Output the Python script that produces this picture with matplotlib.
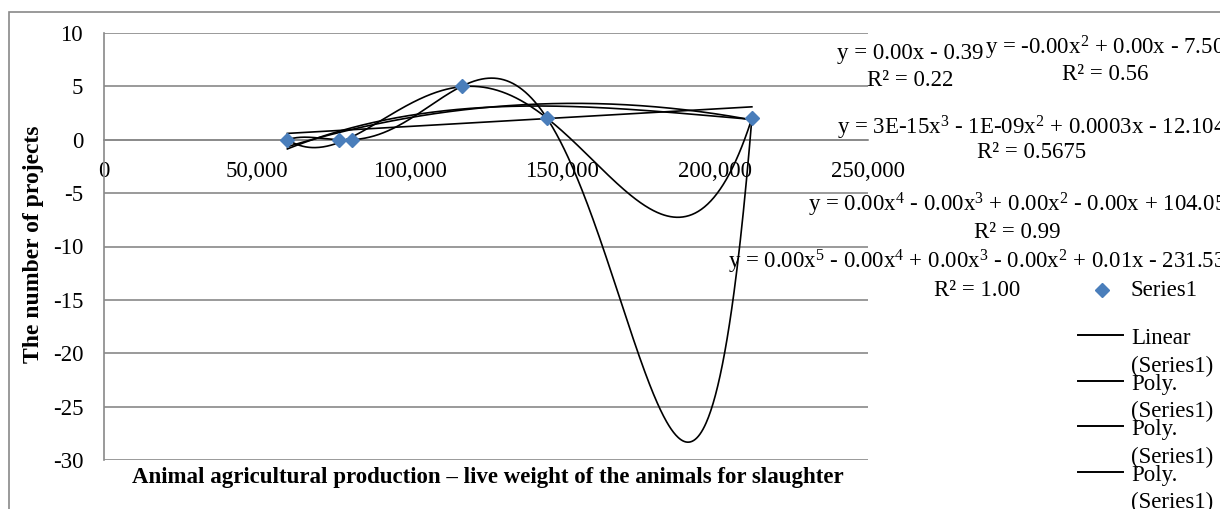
import matplotlib
matplotlib.use("Agg")
import matplotlib.pyplot as plt
import numpy as np
from matplotlib.lines import Line2D
from matplotlib.patches import Rectangle
from matplotlib.ticker import FuncFormatter, MultipleLocator

plt.rcParams['font.family'] = 'Liberation Serif'
plt.rcParams['mathtext.fontset'] = 'custom'
plt.rcParams['mathtext.rm'] = 'Liberation Serif'
plt.rcParams['mathtext.it'] = 'Liberation Serif:italic'
plt.rcParams['axes.unicode_minus'] = False

# data
live_weight = [60000, 77000, 81000, 117000, 145000, 212000]
projects = [0, 0, 0, 5, 2, 2]
trend_degrees = [1, 2, 3, 4, 5]

eq_lines = [
    "y = 0.00x - 0.39",
    "y = -0.00x$^{2}$ + 0.00x - 7.50",
    "y = 3E-15x$^{3}$ - 1E-09x$^{2}$ + 0.0003x - 12.104",
    "y = 0.00x$^{4}$ - 0.00x$^{3}$ + 0.00x$^{2}$ - 0.00x + 104.05",
    "y = 0.00x$^{5}$ - 0.00x$^{4}$ + 0.00x$^{3}$ - 0.00x$^{2}$ + 0.01x - 231.53",
]
r2_lines = ["R² = 0.22", "R² = 0.56", "R² = 0.5675", "R² = 0.99", "R² = 1.00"]
legend_labels = ["Linear", "Poly.", "Poly.", "Poly.", "Poly."]

W, H = 1220, 509
GRID = '#898989'
BLUE = '#4a7ebb'
FS = 16.5


def fx(px):
    return px / W


def fy(py):
    return 1 - py / H


fig = plt.figure(figsize=(W / 100, H / 100), dpi=100)
fig.patches.append(Rectangle((fx(9), fy(600)), 2, fy(12) - fy(600),
                             transform=fig.transFigure, fill=False,
                             edgecolor=GRID, lw=1.2))

ax = fig.add_axes([fx(104), fy(460), fx(868) - fx(104), fy(33) - fy(460)])

x = np.array(live_weight, dtype=float)
y = np.array(projects, dtype=float)
xs = np.linspace(x.min(), x.max(), 600)
for deg in trend_degrees:
    p = np.polynomial.Polynomial.fit(x, y, deg)
    ax.plot(xs, p(xs), color='black', lw=1.2, zorder=3)

ax.plot(x, y, linestyle='none', marker='D', ms=7.6, color=BLUE,
        markeredgecolor=BLUE, zorder=4)

ax.set_xlim(0, 250000)
ax.set_ylim(-30, 10)
ax.xaxis.set_major_locator(MultipleLocator(50000))
ax.yaxis.set_major_locator(MultipleLocator(5))
ax.xaxis.set_major_formatter(FuncFormatter(lambda v, _: f"{v:,.0f}"))
ax.yaxis.set_major_formatter(FuncFormatter(lambda v, _: f"{v:.0f}"))
ax.grid(axis='y', color=GRID, lw=1.2)
ax.set_axisbelow(True)

for s in ['top', 'right']:
    ax.spines[s].set_visible(False)
ax.spines['left'].set_color(GRID)
ax.spines['left'].set_linewidth(1.2)
ax.spines['bottom'].set_position(('data', 0))
ax.spines['bottom'].set_color(GRID)
ax.spines['bottom'].set_linewidth(1.2)
ax.tick_params(axis='x', length=0, pad=15, labelsize=FS)
ax.tick_params(axis='y', length=0, pad=15, labelsize=FS)

ax.set_xlabel("Animal agricultural production \u2013 live weight of the animals for slaughter",
              fontsize=16.5, fontweight='bold', va='center')
ax.xaxis.set_label_coords((488 - 104) / 764, (460 - 477) / 427)
ax.set_ylabel("The number of projects", fontsize=17, fontweight='bold', va='center')
ax.yaxis.set_label_coords((34 - 104) / 764, (460 - 244) / 427)

# trendline equations
eq_pos = [(910, 53, 80), (1105, 48, 75), (1032, 128, 152), (1017, 205, 232), (977, 262, 290)]
for eq, r2, (cx, y1, y2) in zip(eq_lines, r2_lines, eq_pos):
    fig.text(fx(cx), fy(y1), eq, ha='center', va='center', fontsize=FS)
    fig.text(fx(cx), fy(y2), r2, ha='center', va='center', fontsize=FS)

# legend
fig.add_artist(Line2D([fx(1102)], [fy(290)], marker='D', ms=7, color=BLUE,
                      linestyle='none', transform=fig.transFigure))
fig.text(fx(1131), fy(290), "Series1", ha='left', va='center', fontsize=FS)
for i, lab in enumerate(legend_labels):
    ly = 335 + 45.5 * i
    fig.add_artist(Line2D([fx(1078), fx(1123)], [fy(ly), fy(ly)], color='black',
                          lw=1.4, transform=fig.transFigure))
    fig.text(fx(1131), fy(ly + 4), lab, ha='left', va='center', fontsize=FS)
    fig.text(fx(1131), fy(ly + 31), "(Series1)", ha='left', va='center', fontsize=FS)

fig.savefig("out.png", dpi=100)
